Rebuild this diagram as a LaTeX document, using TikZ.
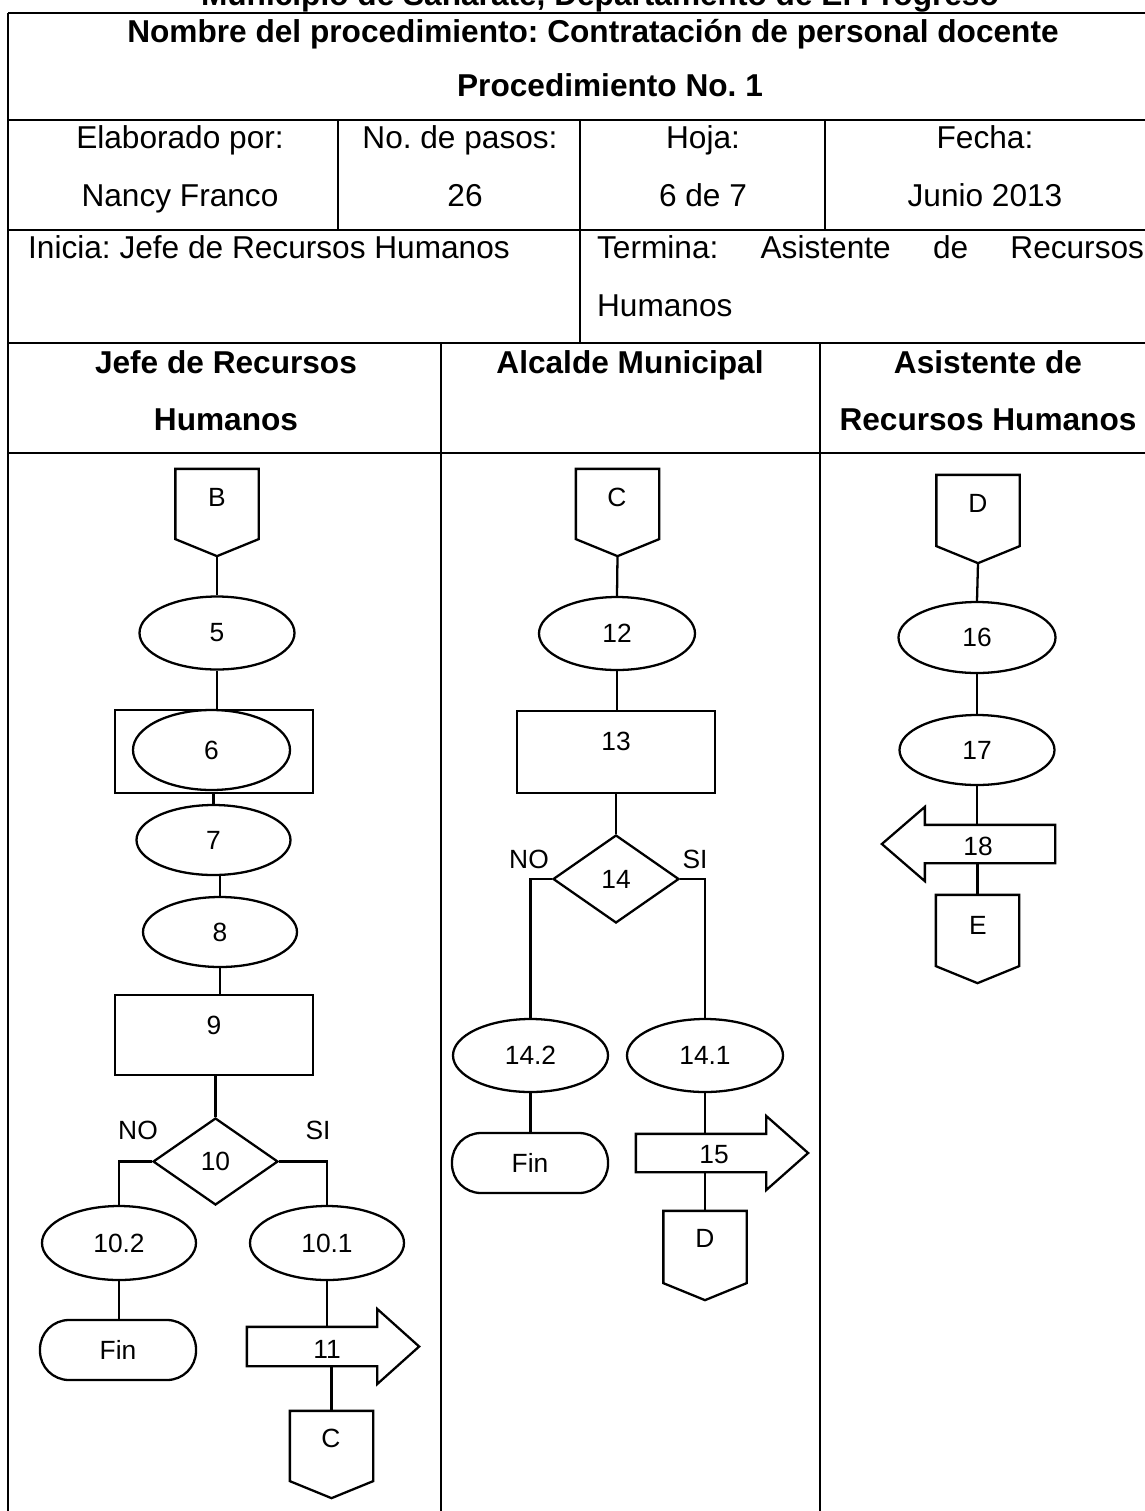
\documentclass[tikz,border=0pt]{standalone}
\usepackage{fontspec}
\setmainfont{Liberation Sans}
\usetikzlibrary{shapes.geometric,calc}
\frenchspacing
\newcommand\pxu{0.02cm}
\newcommand\offpagebox[1]{\draw (#1.north west) -- (#1.north east) -- (#1.south east) -- ($(#1.south)+(0,17)$) -- (#1.south west) -- cycle;
  \coordinate (#1tip) at ($(#1.south)+(0,17)$);}
\newcommand\rightarrowbox[1]{\draw (#1.north west) -- (#1.north east) -- ++(0,-18) -- ($(#1.east)+(42,0)$) -- ($(#1.south east)+(0,18)$) -- (#1.south east) -- (#1.south west) -- cycle;}
\newcommand\leftarrowbox[1]{\draw (#1.north east) -- (#1.north west) -- ++(0,-18) -- ($(#1.west)+(-43,0)$) -- ($(#1.south west)+(0,18)$) -- (#1.south west) -- (#1.south east) -- cycle;}
\begin{document}
\begin{tikzpicture}[x=0.02cm,y=-0.02cm,line width=1.3pt,
  tbl/.style={font=\fontsize{18}{22}\selectfont,inner sep=0pt},
  tblb/.style={font=\fontsize{18}{22}\selectfont\bfseries,inner sep=0pt},
  stxt/.style={font=\fontsize{15}{18}\selectfont,inner sep=0pt},
  proc/.style={draw,ellipse,inner sep=0pt,font=\fontsize{15}{18}\selectfont},
  boxn/.style={draw,rectangle,inner sep=0pt},
  offp/.style={rectangle,inner sep=0pt,minimum width=81*\pxu,minimum height=68*\pxu},
  arrbody/.style={rectangle,inner sep=0pt,minimum width=128*\pxu,minimum height=36*\pxu},
  decis/.style={draw,diamond,inner sep=0pt,font=\fontsize{15}{18}\selectfont},
  term/.style={draw,rectangle,rounded corners=29*\pxu,inner sep=0pt,minimum width=156*\pxu,minimum height=60*\pxu,font=\fontsize{15}{18}\selectfont},
  conn/.style={line width=1.3pt}]
\useasboundingbox (0,0) rectangle (1145,1511);

% ---------- table ----------
\node[tblb,anchor=base] (cut) at (600,6) {Municipio de Sanarate, Departamento de El Progreso};
\draw (8,13) -- (1145,13);
\draw (8,120) -- (1145,120);
\draw (8,230) -- (1145,230);
\draw (8,343) -- (1145,343);
\draw (8,453) -- (1145,453);
\draw (8,13) -- (8,1511);
\draw (338,120) -- (338,230);
\draw (580,120) -- (580,343);
\draw (825,120) -- (825,230);
\draw (441,343) -- (441,1511);
\draw (820,343) -- (820,1511);

\node[tblb,anchor=base] (t1) at (593,42) {Nombre del procedimiento: Contratación de personal docente};
\node[tblb,anchor=base] (t2) at (610,96) {Procedimiento No. 1};
\node[tbl,anchor=base] (h1) at (180,148) {Elaborado por:};
\node[tbl,anchor=base] (h2) at (460,148) {No. de pasos:};
\node[tbl,anchor=base] (h3) at (703,148) {Hoja:};
\node[tbl,anchor=base] (h4) at (985,148) {Fecha:};
\node[tbl,anchor=base] (v1) at (180,206) {Nancy Franco};
\node[tbl,anchor=base] (v2) at (465,206) {26};
\node[tbl,anchor=base] (v3) at (703,206) {6 de 7};
\node[tbl,anchor=base] (v4) at (985,206) {Junio 2013};
\node[tbl,anchor=base west] (ini) at (27,258) {Inicia: Jefe de Recursos Humanos};
\node[tbl,anchor=base west] (ter) at (596,258) {\makebox[10.94cm][s]{Termina:\hfill Asistente\hfill de\hfill Recursos}};
\node[tbl,anchor=base west] (ter2) at (596,316) {Humanos};
\node[tblb,anchor=base] (c1a) at (226,373) {Jefe de Recursos};
\node[tblb,anchor=base] (c1b) at (226,430) {Humanos};
\node[tblb,anchor=base] (c2a) at (630,373) {Alcalde Municipal};
\node[tblb,anchor=base] (c3a) at (988,373) {Asistente de};
\node[tblb,anchor=base] (c3b) at (988,430) {Recursos Humanos};

% ---------- column 1 ----------
\node[offp] (B) at (217,504) {};
\offpagebox{B}
\node[stxt] (tB) at (217,497) {B};
\node[proc,minimum width=155*\pxu,minimum height=73*\pxu] (e5) at (217,633) {5};
\node[boxn,minimum width=198*\pxu,minimum height=83*\pxu] (r6) at (214,751.5) {};
\node[proc,minimum width=157*\pxu,minimum height=80*\pxu] (e6) at (211.5,750) {6};
\node[proc,minimum width=154*\pxu,minimum height=70*\pxu] (e7) at (213.5,840) {7};
\node[proc,minimum width=154*\pxu,minimum height=70*\pxu] (e8) at (220,932) {8};
\node[boxn,minimum width=198*\pxu,minimum height=80*\pxu] (r9) at (214,1035) {};
\node[stxt] (t9) at (214,1025) {9};
\node[decis,minimum width=125*\pxu,minimum height=87*\pxu] (d10) at (215.5,1161.5) {10};
\node[stxt] (no1) at (138,1130) {NO};
\node[stxt] (si1) at (318,1130) {SI};
\node[proc,minimum width=154*\pxu,minimum height=74*\pxu] (e102) at (119,1243) {10.2};
\node[proc,minimum width=154*\pxu,minimum height=74*\pxu] (e101) at (327,1243) {10.1};
\node[term] (fin1) at (118,1350) {Fin};
\node[arrbody,minimum height=37*\pxu] (a11) at (312,1346.5) {};
\rightarrowbox{a11}
\node[stxt] (t11) at (327,1349) {11};
\node[offp] (C2) at (331.5,1446) {};
\offpagebox{C2}
\node[stxt] (tC2) at (331,1438) {C};

\draw[conn] (Btip) -- (e5.north);
\draw[conn] (e5.south) -- (e5.south |- r6.north);
\draw[conn] (r6.south -| e7.north) -- (e7.north);
\draw[conn] (e7.south -| e8.north) -- (e8.north);
\draw[conn] (e8.south) -- (e8.south |- r9.north);
\draw[conn] (d10.north |- r9.south) -- (d10.north);
\draw[conn] (d10.west) -| (e102.north);
\draw[conn] (d10.east) -| (e101.north);
\draw[conn] (e102.south) -- (e102.south |- fin1.north);
\draw[conn] (e101.south) -- (e101.south |- a11.north);
\draw[conn] (a11.south -| C2.north) -- (C2.north);

% ---------- column 2 ----------
\node[offp] (C) at (617.5,504) {};
\offpagebox{C}
\node[stxt] (tC) at (617,497) {C};
\node[proc,minimum width=156*\pxu,minimum height=73*\pxu] (e12) at (617,633.5) {12};
\node[boxn,minimum width=198*\pxu,minimum height=82*\pxu] (r13) at (616,752) {};
\node[stxt] (t13) at (616,741) {13};
\node[decis,minimum width=126*\pxu,minimum height=88*\pxu] (d14) at (616,879) {14};
\node[stxt] (no2) at (529,859) {NO};
\node[stxt] (si2) at (695,859) {SI};
\node[proc,minimum width=155*\pxu,minimum height=73*\pxu] (e142) at (530.5,1055.5) {14.2};
\node[proc,minimum width=156*\pxu,minimum height=73*\pxu] (e141) at (705,1055.5) {14.1};
\node[term] (fin2) at (530,1163) {Fin};
\node[arrbody] (a15) at (701,1153) {};
\rightarrowbox{a15}
\node[stxt] (t15) at (714,1155) {15};
\node[offp,minimum height=70*\pxu] (D2) at (705,1247) {};
\offpagebox{D2}
\node[stxt] (tD2) at (705,1238) {D};

\draw[conn] (Ctip) -- (e12.north);
\draw[conn] (e12.south) -- (e12.south |- r13.north);
\draw[conn] (d14.north |- r13.south) -- (d14.north);
\draw[conn] (d14.west) -| (e142.north);
\draw[conn] (d14.east) -| (e141.north);
\draw[conn] (e142.south) -- (e142.south |- fin2.north);
\draw[conn] (e141.south) -- (e141.south |- a15.north);
\draw[conn] (a15.south -| D2.north) -- (D2.north);

% ---------- column 3 ----------
\node[offp,minimum height=69*\pxu] (D) at (978,510.5) {};
\offpagebox{D}
\node[stxt] (tD) at (978,503) {D};
\node[proc,minimum width=157*\pxu,minimum height=71*\pxu] (e16) at (977,637.5) {16};
\node[proc,minimum width=155*\pxu,minimum height=70*\pxu] (e17) at (977,750) {17};
\node[arrbody] (a18) at (990,844) {};
\leftarrowbox{a18}
\node[stxt] (t18) at (978,846) {18};
\node[offp,minimum height=69*\pxu] (E) at (977.5,930.5) {};
\offpagebox{E}
\node[stxt] (tE) at (978,925) {E};

\draw[conn] (Dtip) -- (e16.north);
\draw[conn] (e16.south) -- (e17.north);
\draw[conn] (e17.south) -- (e17.south |- a18.north);
\draw[conn] (a18.south -| E.north) -- (E.north);
\end{tikzpicture}
\end{document}
